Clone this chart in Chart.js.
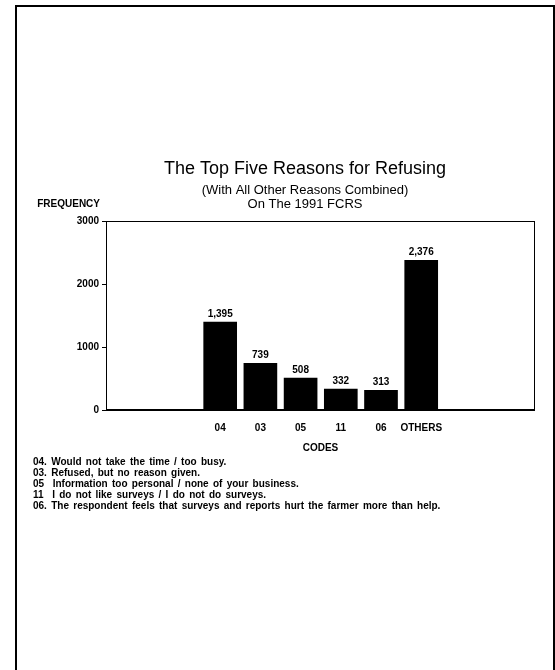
<!DOCTYPE html>
<html>
<head>
<meta charset="utf-8">
<script src="https://cdn.jsdelivr.net/npm/chart.js@4.4.0/dist/chart.umd.min.js"></script>
<style>
  html, body { margin: 0; padding: 0; background: #fff; }
  #page { position: relative; width: 555px; height: 670px; overflow: hidden; }
  #frame { position: absolute; left: 15px; top: 5px; width: 536px; height: 700px;
           border-left: 2px solid #000; border-top: 2px solid #000; border-right: 2px solid #000; }
  canvas { position: absolute; left: 0; top: 0; }
  #notes { position: absolute; left: 33px; top: 456px; font-family: "Liberation Sans", Arial, sans-serif;
           font-weight: bold; font-size: 10px; line-height: 11px; word-spacing: 1.5px; color: #000; }
</style>
</head>
<body>
<div id="page">
  <div id="frame"></div>
  <canvas id="refusals" width="555" height="670"></canvas>
  <div id="notes"></div>
</div>
<script>
// Codigos das razoes e frequencias
const codes = ["04", "03", "05", "11", "06", "OTHERS"];
const counts = [1395, 739, 508, 332, 313, 2376];
const countLabels = ["1,395", "739", "508", "332", "313", "2,376"];
const yTicks = [0, 1000, 2000, 3000];
const footnotes = [
  "04. Would not take the time / too busy.",
  "03. Refused, but no reason given.",
  "05  Information too personal / none of your business.",
  "11  I do not like surveys / I do not do surveys.",
  "06. The respondent feels that surveys and reports hurt the farmer more than help."
];

const fontFamily = '"Liberation Sans", Arial, sans-serif';

// notas de rodape
const notesDiv = document.getElementById("notes");
footnotes.forEach((t) => {
  const d = document.createElement("div");
  d.textContent = t;
  d.style.whiteSpace = "pre";
  notesDiv.appendChild(d);
});

// moldura da area do grafico + rotulos acima das barras + FREQUENCY
const extras = {
  id: "extras",
  afterDraw(chart) {
    const ctx = chart.ctx;
    const a = chart.chartArea;
    ctx.save();
    ctx.strokeStyle = "#000";
    ctx.lineWidth = 1;
    ctx.strokeRect(a.left + 0.5, a.top + 0.5, a.right - a.left - 1, a.bottom - a.top);
    ctx.lineWidth = 2;
    ctx.beginPath();
    ctx.moveTo(a.left, a.bottom);
    ctx.lineTo(a.right, a.bottom);
    ctx.stroke();

    ctx.fillStyle = "#000";
    ctx.font = "bold 10px " + fontFamily;
    ctx.textAlign = "center";
    ctx.textBaseline = "bottom";
    chart.getDatasetMeta(0).data.forEach((bar, i) => {
      ctx.fillText(countLabels[i], bar.x, bar.y - 3);
    });

    ctx.textAlign = "right";
    ctx.textBaseline = "middle";
    ctx.fillText("FREQUENCY", a.left - 6, a.top - 17);
    ctx.restore();
  }
};

const ctx = document.getElementById("refusals").getContext("2d");
new Chart(ctx, {
  type: "bar",
  data: {
    datasets: [{
      data: counts.map((v, i) => ({ x: i + 1, y: v })),
      backgroundColor: "#000",
      borderWidth: 0,
      barThickness: 33
    }]
  },
  plugins: [extras],
  options: {
    responsive: false,
    animation: false,
    layout: { padding: { left: 75, right: 20, top: 160, bottom: 214 } },
    plugins: {
      legend: { display: false },
      tooltip: { enabled: false },
      title: {
        display: true,
        text: "The Top Five Reasons for Refusing",
        color: "#000",
        font: { family: fontFamily, size: 18, weight: "normal", lineHeight: 1.0 },
        padding: { top: 0, bottom: 5 }
      },
      subtitle: {
        display: true,
        text: ["(With All Other Reasons Combined)", "On The 1991 FCRS"],
        color: "#000",
        font: { family: fontFamily, size: 13, weight: "normal", lineHeight: 1.077 },
        padding: { top: 0, bottom: 10 }
      }
    },
    scales: {
      x: {
        type: "linear",
        offset: false,
        min: -1.84,
        max: 8.83,
        grid: { display: false, drawTicks: false },
        border: { display: false },
        ticks: {
          stepSize: 1,
          autoSkip: false,
          maxRotation: 0,
          padding: 12,
          color: "#000",
          font: { family: fontFamily, size: 10, weight: "bold" },
          callback: (v) => (Number.isInteger(v) && codes[v - 1]) ? codes[v - 1] : ""
        },
        title: {
          display: true,
          text: "CODES",
          color: "#000",
          font: { family: fontFamily, size: 10, weight: "bold" },
          padding: { top: -4, bottom: 2 }
        }
      },
      y: {
        min: 0,
        max: 3000,
        afterFit: (scale) => { scale.width = 31; },
        afterBuildTicks: (scale) => { scale.ticks = yTicks.map((v) => ({ value: v })); },
        grid: { drawOnChartArea: false, drawTicks: true, tickLength: 4, color: "#000" },
        border: { display: true, color: "#000", width: 1 },
        ticks: {
          padding: 3,
          color: "#000",
          font: { family: fontFamily, size: 10, weight: "bold" },
          callback: (v) => String(v)
        }
      }
    }
  }
});
</script>
</body>
</html>
